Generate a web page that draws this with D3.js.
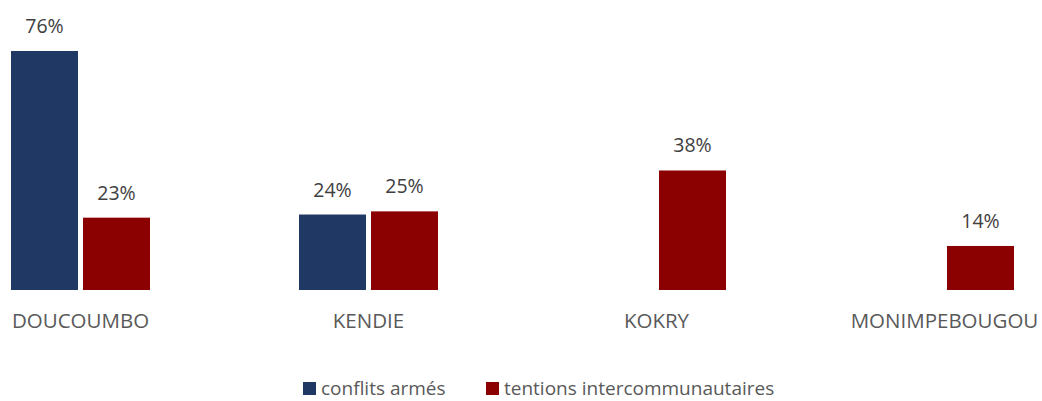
<!DOCTYPE html>
<html>
<head>
<meta charset="utf-8">
<script src="https://cdn.jsdelivr.net/npm/d3@7"></script>
<style>
  body { margin: 0; background: #fff; }
  text { font-family: "Open Sans", sans-serif; }
</style>
</head>
<body>
<div id="chart"></div>
<script>
// values
const categories = ["DOUCOUMBO", "KENDIE", "KOKRY", "MONIMPEBOUGOU"];
const seriesNames = ["conflits armés", "tentions intercommunautaires"];
const conflits = [0.76, 0.24, null, null];
const tentions = [0.23, 0.25, 0.38, 0.14];
const colors = ["#1F3864", "#8B0000"];

const width = 1042, height = 401;
const baseline = 290;

const svg = d3.select("#chart").append("svg")
    .attr("width", width)
    .attr("height", height);

// the plot area is wider than the window (picture is cropped on the left)
const x0 = d3.scaleBand()
    .domain(categories)
    .range([-63.5, 1088.5]);

const x1 = d3.scaleBand()
    .domain(seriesNames)
    .range([-69.5, 69.5])
    .paddingInner(5 / 72);

const y = d3.scaleLinear()
    .domain([0, 0.8])
    .range([baseline, baseline - 251.6]);

const fmt = d3.format(".0%");

const rows = [];
categories.forEach((c, i) => {
    [conflits[i], tentions[i]].forEach((v, j) => {
        if (v != null) rows.push({ cat: c, series: seriesNames[j], value: v, color: colors[j] });
    });
});

const bars = svg.selectAll("g.bar")
    .data(rows)
    .enter()
    .append("g")
    .attr("class", "bar");

bars.append("rect")
    .attr("x", d => x0(d.cat) + x0.bandwidth() / 2 + x1(d.series))
    .attr("y", d => y(d.value))
    .attr("width", x1.bandwidth())
    .attr("height", d => baseline - y(d.value))
    .style("fill", d => d.color);

bars.append("text")
    .attr("x", d => x0(d.cat) + x0.bandwidth() / 2 + x1(d.series) + x1.bandwidth() / 2)
    .attr("y", d => y(d.value) - 18)
    .attr("text-anchor", "middle")
    .style("font-size", "19.5px")
    .style("fill", "#404040")
    .text(d => fmt(d.value));

// category labels
svg.selectAll("text.cat")
    .data(categories)
    .enter()
    .append("text")
    .attr("class", "cat")
    .attr("x", d => x0(d) + x0.bandwidth() / 2)
    .attr("y", 328)
    .attr("text-anchor", "middle")
    .style("font-size", "20.5px")
    .style("fill", "#595959")
    .text(d => d);

// legend
const legendX = [303, 486];
const legend = svg.selectAll("g.legend")
    .data(seriesNames)
    .enter()
    .append("g")
    .attr("class", "legend")
    .attr("transform", (d, i) => `translate(${legendX[i]},382)`);

legend.append("rect")
    .attr("width", 13)
    .attr("height", 13)
    .style("fill", (d, i) => colors[i]);

legend.append("text")
    .attr("x", 18)
    .attr("y", 13)
    .style("font-size", "19px")
    .style("fill", "#595959")
    .text(d => d);
</script>
</body>
</html>
